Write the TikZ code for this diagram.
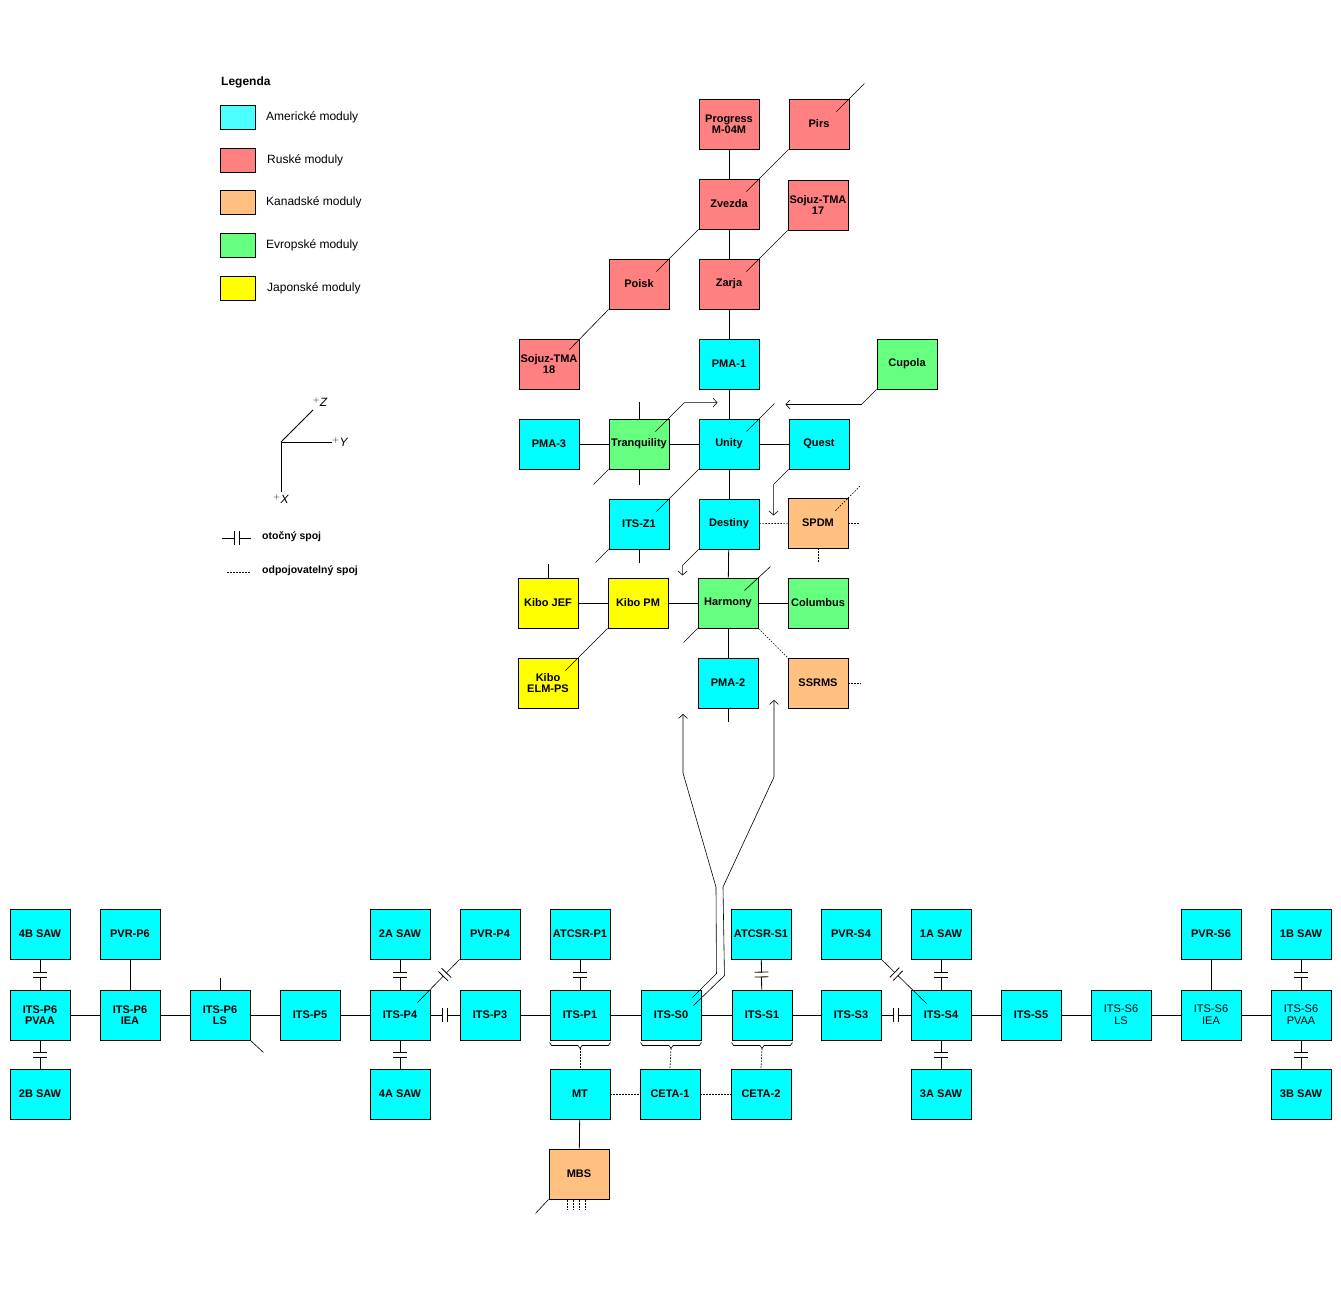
\documentclass[tikz,border=0pt]{standalone}
\usepackage{fontspec}
\setmainfont{Liberation Sans}
\usetikzlibrary{calc,arrows.meta}
\definecolor{cy}{HTML}{00FFFF}
\definecolor{cyl}{HTML}{4DFFFF}
\definecolor{ru}{HTML}{FF8080}
\definecolor{ca}{HTML}{FFC080}
\definecolor{eu}{HTML}{66FF80}
\definecolor{ja}{HTML}{FFFF00}
\tikzset{
 mod/.style={draw, line width=0.9pt, minimum width=60pt, minimum height=50pt, inner sep=0pt, align=center, font=\bfseries\fontsize{11}{11}\selectfont},
 usm/.style={mod, fill=cy}, rum/.style={mod, fill=ru}, cam/.style={mod, fill=ca}, eum/.style={mod, fill=eu}, jam/.style={mod, fill=ja},
 lite/.style={mod, font=\fontsize{11}{12}\selectfont},
 con/.style={line width=0.8pt},
 dg/.style={line width=0.6pt},
 dt/.style={line width=0.7pt, dash pattern=on 1.5pt off 1.5pt},
 arr/.style={line width=0.6pt, -{Straight Barb[length=4pt,width=9pt]}},
 rj/.style={sloped, fill=white, inner sep=0pt, minimum width=4pt, minimum height=13pt,
   append after command={(\tikzlastnode.north west) edge[line width=0.8pt] (\tikzlastnode.south west) (\tikzlastnode.north east) edge[line width=0.8pt] (\tikzlastnode.south east)}},
 sw/.style={draw, line width=0.8pt, minimum width=35pt, minimum height=24pt, inner sep=0pt},
 leg/.style={anchor=west, font=\fontsize{12}{12}\selectfont, inner sep=0pt},
 legb/.style={anchor=west, font=\bfseries\fontsize{10.5}{11}\selectfont, inner sep=0pt},
}
\begin{document}
\begin{tikzpicture}[x=1pt,y=-1pt]
\useasboundingbox (0,0) rectangle (1341,1300);
% legend
\node[anchor=west, inner sep=0pt, font=\bfseries\fontsize{12}{12}\selectfont] (legt) at (221,82) {Legenda};
\node[sw, fill=cyl] (s1) at (238,117) {}; \node[leg] (l1) at (266,117) {Americké moduly};
\node[sw, fill=ru] (s2) at (238,160) {}; \node[leg] (l2) at (267,160) {Ruské moduly};
\node[sw, fill=ca] (s3) at (238,202) {}; \node[leg] (l3) at (266,202) {Kanadské moduly};
\node[sw, fill=eu] (s4) at (238,245) {}; \node[leg] (l4) at (266,245) {Evropské moduly};
\node[sw, fill=ja] (s5) at (238,288) {}; \node[leg] (l5) at (267,288) {Japonské moduly};
% axes
\coordinate (o) at (281,442);
\coordinate (ay) at (332,442); \coordinate (az) at (313,410); \coordinate (ax) at (281,492);
\draw[con] (o) -- (ay); \draw[con] (o) -- (az); \draw[con] (o) -- (ax);
\node[inner sep=0pt, font=\itshape\fontsize{12}{12}\selectfont] (ly) at (340,442) {$^+$Y};
\node[inner sep=0pt, font=\itshape\fontsize{12}{12}\selectfont] (lz) at (320,402) {$^+$Z};
\node[inner sep=0pt, font=\itshape\fontsize{12}{12}\selectfont] (lx) at (281,499) {$^+$X};
\coordinate (r1) at (222,538); \coordinate (r2) at (251,538);
\draw[con] (r1) -- node[rj]{} (r2);
\node[legb] (lr) at (262,537) {otočný spoj};
\coordinate (d1) at (227,572); \coordinate (d2) at (250,572);
\draw[dt] (d1) -- (d2);
\node[legb] (ld) at (262,571) {odpojovatelný spoj};

% upper stack
\node[rum] (prog) at (729,124) {Progress\\M-04M};
\node[rum] (pirs) at (819,124) {Pirs};
\node[rum] (zvezda) at (729,204) {Zvezda};
\node[rum] (soj17) at (818,205) {Sojuz-TMA\\17};
\node[rum] (poisk) at (639,284) {Poisk};
\node[rum] (zarja) at (729,284) {Zarja};
\node[rum] (soj18) at (549,364) {Sojuz-TMA\\18};
\node[usm] (pma1) at (729,364) {PMA-1};
\node[eum] (cupola) at (907,364) {Cupola};
\node[usm] (pma3) at (549,444) {PMA-3};
\node[eum] (tranq) at (639,444) {Tranquility};
\node[usm] (unity) at (729,444) {Unity};
\node[usm] (quest) at (819,444) {Quest};
\node[usm] (z1) at (639,524) {ITS-Z1};
\node[usm] (destiny) at (729,524) {Destiny};
\node[cam] (spdm) at (818,523) {SPDM};
\node[jam] (jef) at (548,603) {Kibo JEF};
\node[jam] (kpm) at (638,603) {Kibo PM};
\node[eum] (harmony) at (728,603) {Harmony};
\node[eum] (columbus) at (818,603) {Columbus};
\node[jam] (elm) at (548,683) {Kibo\\ELM-PS};
\node[usm] (pma2) at (728,683) {PMA-2};
\node[cam] (ssrms) at (818,683) {SSRMS};

\draw[con] (prog) -- (zvezda);
\draw[con] (zvezda) -- (zarja);
\draw[con] (zarja) -- (pma1);
\draw[con] (pma1) -- (unity);
\draw[con] (unity) -- (destiny);
\draw[con] (destiny) -- (harmony);
\draw[con] (harmony) -- (pma2);
\draw[con] (pma2.south) -- ++(0,14) coordinate (pma2e);
\draw[con] (pma3) -- (tranq); \draw[con] (tranq) -- (unity); \draw[con] (unity) -- (quest);
\draw[con] (jef) -- (kpm); \draw[con] (kpm) -- (harmony); \draw[con] (harmony) -- (columbus);
\draw[con] (tranq.north) -- ++(0,-17) coordinate (tqn);
\draw[con] (tranq.south) -- ++(0,16) coordinate (tqs);
\draw[con] (z1.south) -- ++(0,14) coordinate (z1s);
\draw[con] (jef.north) -- ++(0,-14) coordinate (jefn);
% diagonals
\draw[dg] ($(zvezda.north east)+(-13,13)$) -- (pirs.south west);
\draw[dg] ($(pirs.north east)+(-13,13)$) -- ++(28,-28) coordinate (pirse);
\draw[dg] ($(zarja.north east)+(-13,13)$) -- (soj17.south west);
\draw[dg] (zvezda.south west) -- ($(poisk.north east)+(-13,13)$);
\draw[dg] (poisk.south west) -- ($(soj18.north east)+(-10,11)$);
\draw[dg] (tranq.south west) -- ++(-15,15) coordinate (tqsw);
\draw[dg] ($(unity.north east)+(-13,13)$) -- ++(28,-28) coordinate (unne);
\draw[dg] (unity.south west) -- ($(z1.north east)+(-13,13)$);
\draw[dg] (z1.south west) -- ++(-13,13) coordinate (z1sw);
\draw[dg] ($(harmony.north east)+(-14,13)$) -- ++(26,-24) coordinate (hane);
\draw[dg] (harmony.south west) -- ++(-14,14) coordinate (hasw);
\draw[dg] (kpm.south west) -- ($(elm.north east)+(-13,13)$);
% arrows
\draw[arr] ($(tranq.north east)+(-14,13)$) -- ++(29,-29) -- ++(33,0) coordinate (tqa);
\draw[arr] (cupola.south west) -- ++(-15,15) -- ++(-76,0) coordinate (cua);
\draw[arr] (quest.south west) -- ++(-15,15) -- ++(0,31) coordinate (qua);
\draw[arr] (destiny.south west) -- ++(-16,16) -- ++(0,10) coordinate (dea);
% dotted
\draw[dt] (destiny) -- (spdm);
\draw[dt] (spdm.east) -- ++(12,0) coordinate (spe);
\draw[dt] (spdm.south) -- ++(0,14) coordinate (sps);
\draw[dt] ($(spdm.north east)+(-13,13)$) -- ++(25,-25) coordinate (spne);
\draw[dt] (harmony.south east) -- (ssrms.north west);
\draw[dt] (ssrms.east) -- ++(13,0) coordinate (sse);

% truss
\foreach \n/\x/\t in {p6pvaa/40/{ITS-P6\\PVAA}, p6iea/130/{ITS-P6\\IEA}, p6ls/220/{ITS-P6\\LS}, p5/310/ITS-P5, p4/400/ITS-P4, p3/490/ITS-P3, p1/580/ITS-P1, s0/671/ITS-S0, s1/762/ITS-S1, s3/851/ITS-S3, s4/941/ITS-S4, s5/1031/ITS-S5}
  \node[usm] (\n) at (\x,1015) {\t};
\node[usm, lite] (s6ls) at (1121,1015) {ITS-S6\\LS};
\node[usm, lite] (s6iea) at (1211,1015) {ITS-S6\\IEA};
\node[usm, lite] (s6pvaa) at (1301,1015) {ITS-S6\\PVAA};
\foreach \n/\x/\t in {b4saw/40/4B SAW, pvrp6/130/PVR-P6, a2saw/400/2A SAW, pvrp4/490/PVR-P4, atp1/580/ATCSR-P1, ats1/761/ATCSR-S1, pvrs4/851/PVR-S4, a1saw/941/1A SAW, pvrs6/1211/PVR-S6, b1saw/1301/1B SAW}
  \node[usm] (\n) at (\x,934) {\t};
\foreach \n/\x/\t in {b2saw/40/2B SAW, a4saw/400/4A SAW, mt/580/MT, ceta1/670/CETA-1, ceta2/761/CETA-2, a3saw/941/3A SAW, b3saw/1301/3B SAW}
  \node[usm] (\n) at (\x,1094) {\t};
\node[cam] (mbs) at (579,1174) {MBS};

\draw[con] (p6pvaa) -- (p6iea); \draw[con] (p6iea) -- (p6ls); \draw[con] (p6ls) -- (p5);
\draw[con] (p5) -- (p4); \draw[con] (p4) -- node[rj]{} (p3); \draw[con] (p3) -- (p1);
\draw[con] (p1) -- (s0); \draw[con] (s0) -- (s1); \draw[con] (s1) -- (s3);
\draw[con] (s3) -- node[rj]{} (s4); \draw[con] (s4) -- (s5); \draw[con] (s5) -- (s6ls);
\draw[con] (s6ls) -- (s6iea); \draw[con] (s6iea) -- (s6pvaa);
\draw[con] (b4saw) -- node[rj]{} (p6pvaa); \draw[con] (p6pvaa) -- node[rj]{} (b2saw);
\draw[con] (pvrp6) -- (p6iea);
\draw[con] (a2saw) -- node[rj]{} (p4); \draw[con] (p4) -- node[rj]{} (a4saw);
\draw[con] (atp1) -- node[rj]{} (p1); \draw[con] (ats1) -- node[rj]{} (s1);
\draw[con] (a1saw) -- node[rj]{} (s4); \draw[con] (s4) -- node[rj]{} (a3saw);
\draw[con] (b1saw) -- node[rj]{} (s6pvaa); \draw[con] (s6pvaa) -- node[rj]{} (b3saw);
\draw[con] (pvrs6) -- (s6iea);
\draw[con] (mt) -- (mbs);
\draw[con] (p6ls.north) -- ++(0,-12) coordinate (p6lsn);
\draw[dg] (p6ls.south east) -- ++(13,12) coordinate (p6lsse);
\draw[dg] (pvrp4.south west) -- node[rj, pos=0.35]{} ($(p4.north east)+(-13,13)$);
\draw[dg] (pvrs4.south east) -- node[rj, pos=0.33]{} ($(s4.north west)+(16,14)$);
\draw[dg] (mbs.south west) -- ++(-13,14) coordinate (mbssw);
\foreach \dx in {-12,-6,0,6} \draw[dt] ($(mbs.south)+(\dx,1)$) -- ++(0,10);
% braces
\foreach \b/\t in {p1/mt, s0/ceta1, s1/ceta2} {
  \draw[line width=0.6pt] ($(\b.south west)+(0,2)$) -- ++(2,3) -- ($(\b.south)+(-2,5)$) -- ($(\b.south)+(0,8)$) coordinate (\b br) -- ($(\b.south)+(2,5)$) -- ($(\b.south east)+(-2,5)$) -- ++(2,-3);
  \draw[dt] (\b br) -- (\t.north);
}
\draw[dt] (mt) -- (ceta1); \draw[dt] (ceta1) -- (ceta2);
\draw[dt] (ceta1.west) ++(0,0);
% long double line from S0
\draw[arr] ($(s0.north east)+(-9,8)$) -- ++(24,-24) -- (716,887) -- (683,773) -- (683,714) coordinate (la);
\draw[arr] ($(s0.north east)+(-8,16)$) -- ++(31,-30) -- (723,887) -- (774,777) -- (774,700) coordinate (ra);
\end{tikzpicture}
\end{document}
